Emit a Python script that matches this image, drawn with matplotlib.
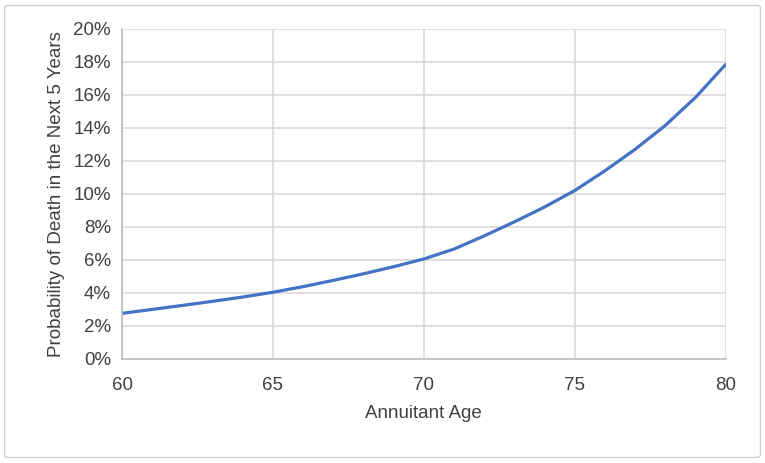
import matplotlib
matplotlib.use('Agg')
import matplotlib.pyplot as plt
from matplotlib.patches import FancyBboxPatch
from matplotlib.ticker import PercentFormatter

plt.rcParams['font.family'] = ['Liberation Sans Narrow', 'Liberation Sans', 'DejaVu Sans']

# values (probability in %)
ages = [60, 61, 62, 63, 64, 65, 66, 67, 68, 69, 70,
        71, 72, 73, 74, 75, 76, 77, 78, 79, 80]
prob = [2.75, 2.99, 3.23, 3.48, 3.74, 4.03, 4.37, 4.75, 5.15, 5.58, 6.05,
        6.65, 7.45, 8.3, 9.2, 10.2, 11.4, 12.7, 14.15, 15.85, 17.85]
xticks = [60, 65, 70, 75, 80]
yticks = [0, 2, 4, 6, 8, 10, 12, 14, 16, 18, 20]

txt = '#404040'
grid = '#d9d9d9'

fig = plt.figure(figsize=(7.65, 4.63), dpi=100)
fig.patches.append(FancyBboxPatch((0.006, 0.012), 0.988, 0.976, boxstyle='round,pad=0,rounding_size=0.005',
                                  transform=fig.transFigure, fill=False, edgecolor='#d0d0d0', lw=1))
ax = fig.add_axes([0.1595, 0.2253, 0.7891, 0.7121])

ax.plot(ages, prob, color='#4472C4', lw=2.3, solid_capstyle='round', solid_joinstyle='round')

ax.set_xlim(60, 80)
ax.set_ylim(0, 20)
ax.set_xticks(xticks)
ax.set_yticks(yticks)
ax.yaxis.set_major_formatter(PercentFormatter(decimals=0))
ax.grid(True, color=grid, lw=1.2)
ax.set_axisbelow(True)
for s in ['top', 'right']:
    ax.spines[s].set_visible(False)
for s in ['left', 'bottom']:
    ax.spines[s].set_color('#bfbfbf')
    ax.spines[s].set_linewidth(1.2)
ax.tick_params(length=0, labelsize=13.5, colors=txt)
ax.tick_params(axis='x', pad=13)
ax.tick_params(axis='y', pad=8)

ax.set_xlabel('Annuitant Age', fontsize=13.5, color=txt, labelpad=8)
ax.set_ylabel('Probability of Death in the Next 5 Years', fontsize=13.5, color=txt, labelpad=6)

fig.savefig('out.png', dpi=100)
